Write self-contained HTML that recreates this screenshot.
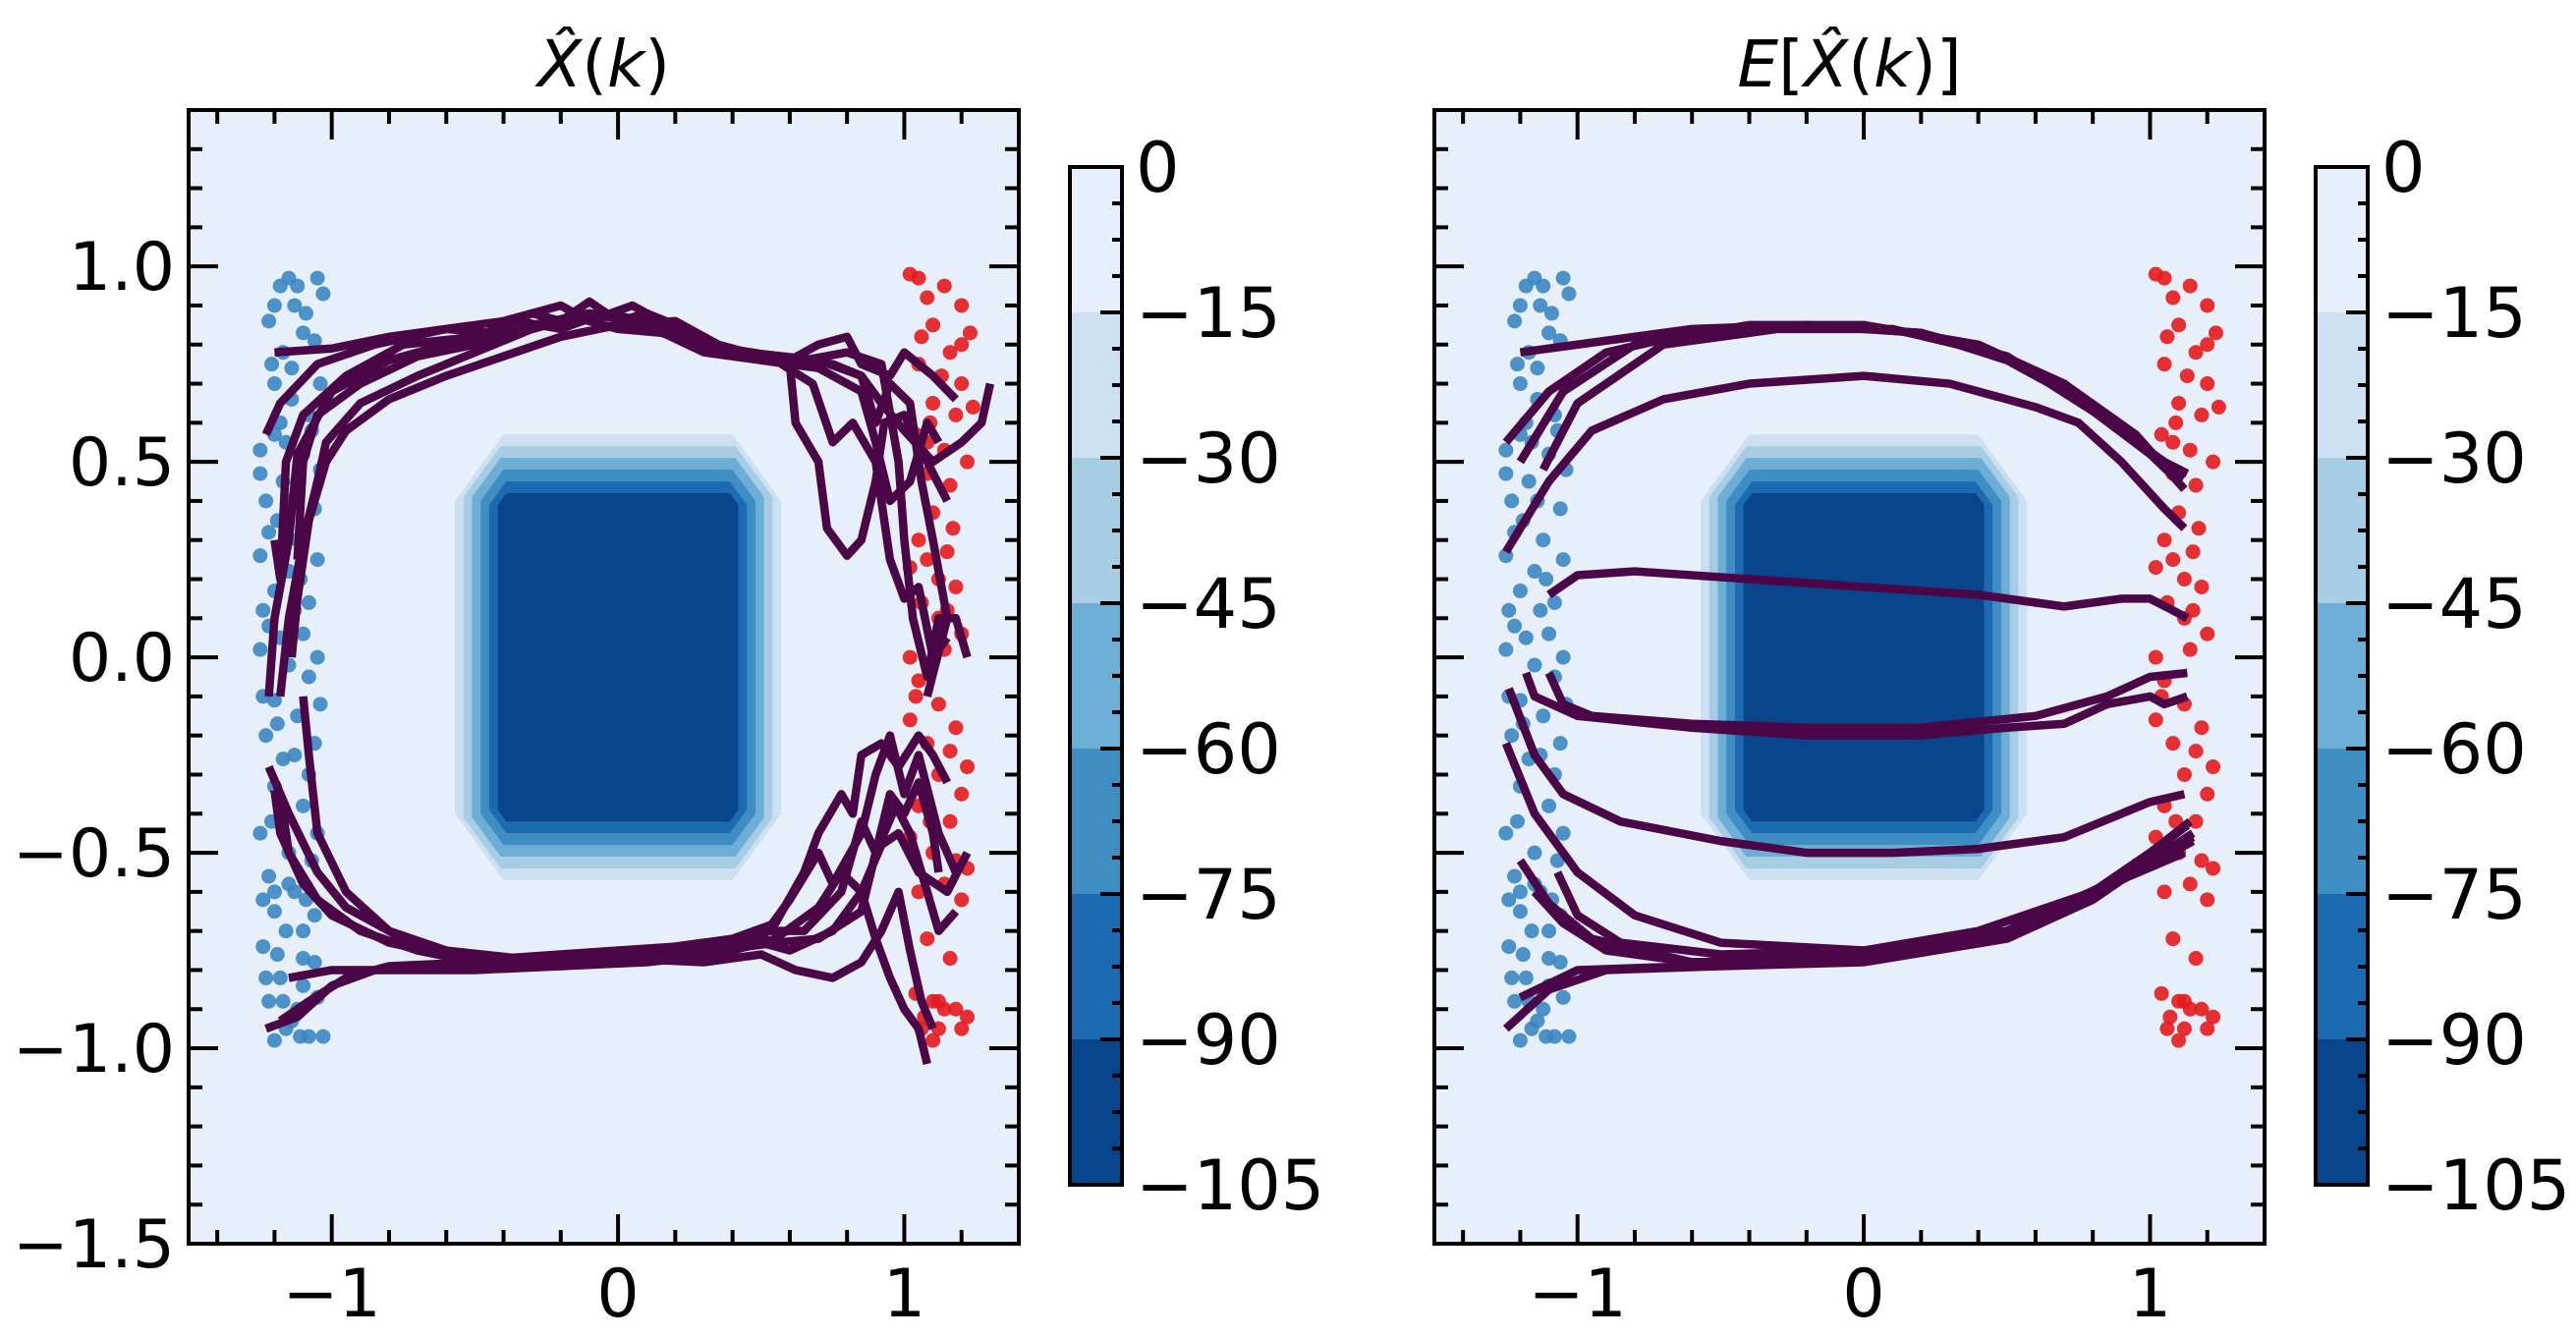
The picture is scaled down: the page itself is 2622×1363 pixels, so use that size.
<!DOCTYPE html>
<html><head><meta charset="utf-8">
<style>
html,body{margin:0;padding:0;background:#fff;}
svg{display:block;}
text{font-family:"DejaVu Sans","Liberation Sans",sans-serif;fill:#000;}
</style></head>
<body>
<svg id="fig" width="2622" height="1363" viewBox="0 0 2622 1363" xmlns="http://www.w3.org/2000/svg"></svg>
<script>
// ---- data ----
const levels = [0,-15,-30,-45,-60,-75,-90,-105];
const bandColors = ["#e7f0fa","#cde0f1","#a6cde3","#6caed6","#3e8ec4","#1c6ab0","#08458a"];
const contourHalf = [0.57,0.54,0.51,0.48,0.45,0.42];
const contourCut = [0.17,0.13,0.10,0.08,0.06,0.03];
const xTicks = [-1,0,1];
const yTicks = [-1.5,-1.0,-0.5,0.0,0.5,1.0];
const yTickLabels = ["\u22121.5","\u22121.0","\u22120.5","0.0","0.5","1.0"];
const xTickLabels = ["\u22121","0","1"];
const cbarLabels = ["0","\u221215","\u221230","\u221245","\u221260","\u221275","\u221290","\u2212105"];

const bluePts = [[-1.15,0.97],[-1.12,0.95],[-1.18,0.95],[-1.05,0.97],[-1.03,0.93],[-1.13,0.9],[-1.22,0.86],[-1.1,0.83],[-1.06,0.81],[-1.17,0.78],[-1.2,0.7],[-1.14,0.66],[-1.08,0.62],[-1.2,0.57],[-1.1,0.52],[-1.25,0.47],[-1.17,0.45],[-1.23,0.4],[-1.06,0.38],[-1.19,0.35],[-1.12,0.3],[-1.25,0.26],[-1.15,0.22],[-1.2,0.17],[-1.08,0.14],[-1.22,0.08],[-1.1,0.06],[-1.25,0.02],[-1.15,-0.02],[-1.05,0.0],[-1.2,-0.11],[-1.12,-0.15],[-1.23,-0.2],[-1.06,-0.22],[-1.17,-0.26],[-1.2,-0.33],[-1.1,-0.38],[-1.25,-0.45],[-1.15,-0.5],[-1.07,-0.52],[-1.22,-0.56],[-1.13,-0.6],[-1.2,-0.65],[-1.06,-0.66],[-1.16,-0.7],[-1.24,-0.74],[-1.1,-0.77],[-1.18,-0.82],[-1.22,-0.88],[-1.12,-0.9],[-1.05,-0.87],[-1.16,-0.95],[-1.2,-0.98],[-1.08,-0.97],[-1.03,-0.97],[-1.14,-0.93],[-1.18,0.6],[-1.04,0.7],[-1.24,0.12],[-1.08,-0.3],[-1.2,-0.6],[-1.1,-0.7],[-1.14,0.4],[-1.05,0.25],[-1.21,0.75],[-1.09,0.88],[-1.16,0.55],[-1.04,0.48],[-1.22,0.32],[-1.11,0.2],[-1.18,0.05],[-1.08,-0.05],[-1.24,-0.1],[-1.13,-0.25],[-1.21,-0.42],[-1.05,-0.45],[-1.15,-0.58],[-1.24,-0.62],[-1.09,-0.62],[-1.19,-0.76],[-1.06,-0.78],[-1.23,-0.82],[-1.1,-0.84],[-1.17,-0.88],[-1.11,-0.97],[-1.14,0.74],[-1.2,0.9],[-1.07,0.58],[-1.25,0.53],[-1.13,0.12],[-1.19,-0.17],[-1.04,-0.12]];
const redPts = [[1.02,0.98],[1.05,0.97],[1.14,0.95],[1.08,0.92],[1.2,0.9],[1.1,0.85],[1.23,0.83],[1.16,0.78],[1.05,0.75],[1.2,0.7],[1.1,0.65],[1.18,0.62],[1.04,0.57],[1.14,0.53],[1.22,0.5],[1.08,0.47],[1.16,0.44],[1.1,0.37],[1.05,0.3],[1.15,0.27],[1.02,0.23],[1.12,0.2],[1.18,0.18],[1.06,0.14],[1.12,0.1],[1.2,0.06],[1.02,0.0],[1.14,0.02],[1.05,-0.06],[1.12,-0.12],[1.02,-0.16],[1.18,-0.18],[1.08,-0.22],[1.22,-0.28],[1.12,-0.3],[1.2,-0.35],[1.05,-0.38],[1.16,-0.42],[1.02,-0.46],[1.1,-0.5],[1.22,-0.54],[1.14,-0.58],[1.05,-0.6],[1.2,-0.62],[1.08,-0.72],[1.16,-0.77],[1.04,-0.86],[1.1,-0.88],[1.14,-0.9],[1.22,-0.92],[1.07,-0.92],[1.12,-0.95],[1.1,-0.98],[1.2,0.8],[1.08,0.55],[1.06,0.82],[1.13,0.72],[1.24,0.64],[1.09,0.6],[1.17,0.33],[1.08,0.25],[1.15,0.12],[1.04,-0.1],[1.16,-0.24],[1.09,-0.42],[1.18,-0.52],[1.12,-0.88],[1.18,-0.9],[1.06,-0.95],[1.2,-0.95]];

const leftTraj = [
 [[-1.2,0.78],[-1.0,0.79],[-0.8,0.82],[-0.6,0.84],[-0.45,0.83],[-0.3,0.88],[-0.2,0.86],[-0.1,0.91],[0,0.86],[0.1,0.88],[0.2,0.85],[0.3,0.8],[0.5,0.77],[0.6,0.76],[0.7,0.8],[0.8,0.82],[0.85,0.75],[0.95,0.72],[1.0,0.78],[1.1,0.72],[1.18,0.66]],
 [[-1.23,0.57],[-1.18,0.65],[-1.05,0.75],[-0.85,0.8],[-0.6,0.84],[-0.4,0.86],[-0.2,0.9],[-0.1,0.86],[0.05,0.9],[0.15,0.86],[0.3,0.79],[0.5,0.76],[0.6,0.75],[0.62,0.6],[0.7,0.5],[0.73,0.33],[0.8,0.26],[0.85,0.3],[0.9,0.45],[0.93,0.6],[1.0,0.62],[1.08,0.5],[1.15,0.4]],
 [[-1.2,0.3],[-1.18,0.2],[-1.16,0.5],[-1.1,0.62],[-0.95,0.72],[-0.75,0.8],[-0.5,0.82],[-0.35,0.86],[-0.2,0.84],[-0.05,0.88],[0.1,0.86],[0.25,0.8],[0.4,0.77],[0.55,0.76],[0.68,0.7],[0.75,0.55],[0.82,0.6],[0.9,0.5],[0.95,0.25],[1.0,0.15],[1.05,0.18],[1.1,0.0],[1.15,0.05]],
 [[-1.22,-0.1],[-1.2,0.1],[-1.15,0.3],[-1.12,0.52],[-1.0,0.68],[-0.8,0.76],[-0.6,0.8],[-0.4,0.82],[-0.25,0.85],[-0.1,0.88],[0.1,0.85],[0.3,0.78],[0.5,0.76],[0.7,0.74],[0.85,0.68],[0.9,0.55],[0.95,0.4],[1.02,0.45],[1.08,0.6],[1.12,0.55]],
 [[-1.18,-0.1],[-1.15,0.1],[-1.1,0.3],[-1.05,0.45],[-1.02,0.55],[-0.9,0.65],[-0.7,0.72],[-0.5,0.78],[-0.3,0.84],[-0.15,0.87],[0,0.84],[0.15,0.83],[0.3,0.8],[0.55,0.77],[0.75,0.75],[0.85,0.72],[0.92,0.65],[1.0,0.58],[1.1,0.5],[1.2,0.55],[1.27,0.6],[1.3,0.7]],
 [[-1.14,0.0],[-1.12,0.15],[-1.08,0.35],[-1.02,0.5],[-0.95,0.58],[-0.8,0.66],[-0.6,0.72],[-0.4,0.77],[-0.2,0.82],[0,0.85],[0.2,0.86],[0.35,0.8],[0.5,0.76],[0.65,0.76],[0.8,0.78],[0.92,0.75],[0.98,0.5],[1.0,0.3],[1.03,0.1],[1.08,-0.05],[1.12,0.1],[1.18,0.1],[1.22,0.0]],
 [[-1.12,0.25],[-1.1,0.5],[-1.05,0.62],[-0.9,0.7],[-0.7,0.77],[-0.5,0.8],[-0.3,0.85],[-0.1,0.88],[0.1,0.85],[0.25,0.82],[0.45,0.78],[0.7,0.76],[0.85,0.72],[0.9,0.6],[0.95,0.7],[1.02,0.65],[1.06,0.45],[1.1,0.3],[1.15,0.1],[1.08,-0.1]],
 [[-1.2,-0.34],[-1.18,-0.45],[-1.1,-0.58],[-1.0,-0.66],[-0.8,-0.73],[-0.6,-0.76],[-0.4,-0.77],[-0.2,-0.76],[0,-0.75],[0.2,-0.74],[0.4,-0.72],[0.55,-0.68],[0.65,-0.55],[0.7,-0.45],[0.78,-0.35],[0.82,-0.4],[0.85,-0.25],[0.92,-0.22],[0.98,-0.28],[1.05,-0.2],[1.1,-0.25],[1.15,-0.32]],
 [[-1.18,-0.35],[-1.15,-0.5],[-1.05,-0.62],[-0.9,-0.7],[-0.7,-0.75],[-0.5,-0.78],[-0.3,-0.77],[-0.1,-0.76],[0.1,-0.75],[0.3,-0.73],[0.5,-0.72],[0.6,-0.62],[0.7,-0.5],[0.75,-0.58],[0.85,-0.45],[0.9,-0.3],[0.95,-0.2],[1.0,-0.35],[1.05,-0.25],[1.12,-0.45],[1.18,-0.55]],
 [[-1.22,-0.28],[-1.15,-0.4],[-1.05,-0.55],[-0.95,-0.64],[-0.75,-0.72],[-0.5,-0.77],[-0.25,-0.78],[0,-0.76],[0.25,-0.75],[0.45,-0.72],[0.6,-0.75],[0.75,-0.7],[0.85,-0.6],[0.9,-0.72],[0.95,-0.82],[1.0,-0.9],[1.05,-0.95],[1.08,-1.04]],
 [[-1.1,-0.1],[-1.08,-0.25],[-1.05,-0.45],[-0.95,-0.6],[-0.8,-0.7],[-0.6,-0.75],[-0.35,-0.77],[-0.1,-0.78],[0.15,-0.76],[0.35,-0.75],[0.55,-0.73],[0.7,-0.72],[0.85,-0.65],[0.9,-0.5],[0.97,-0.38],[1.02,-0.45],[1.08,-0.6],[1.12,-0.7],[1.18,-0.65]],
 [[-1.23,-0.95],[-1.12,-0.92],[-1.0,-0.84],[-0.85,-0.8],[-0.6,-0.79],[-0.3,-0.78],[0,-0.77],[0.3,-0.78],[0.5,-0.76],[0.62,-0.8],[0.75,-0.82],[0.85,-0.78],[0.92,-0.7],[0.98,-0.6],[1.02,-0.75],[1.06,-0.88],[1.1,-0.95]],
 [[-1.18,-0.93],[-1.08,-0.88],[-0.95,-0.82],[-0.8,-0.79],[-0.5,-0.78],[-0.2,-0.79],[0.1,-0.78],[0.35,-0.76],[0.55,-0.72],[0.7,-0.64],[0.78,-0.55],[0.85,-0.6],[0.92,-0.48],[0.98,-0.45],[1.05,-0.55],[1.15,-0.6],[1.22,-0.5]],
 [[-1.15,-0.82],[-1.0,-0.8],[-0.8,-0.8],[-0.5,-0.8],[-0.2,-0.79],[0.1,-0.77],[0.3,-0.74],[0.5,-0.7],[0.65,-0.7],[0.78,-0.6],[0.85,-0.42],[0.9,-0.5],[0.95,-0.35],[1.0,-0.4],[1.05,-0.32],[1.1,-0.45],[1.12,-0.55]]
];
const rightTraj = [
 [[-1.2,0.78],[-1.0,0.8],[-0.6,0.84],[-0.2,0.85],[0.2,0.83],[0.5,0.76],[0.8,0.64],[1.0,0.52],[1.12,0.46]],
 [[-1.25,0.55],[-1.1,0.68],[-0.9,0.78],[-0.6,0.83],[-0.2,0.85],[0.2,0.83],[0.5,0.77],[0.8,0.63],[1.0,0.52],[1.1,0.45]],
 [[-1.2,0.5],[-1.05,0.68],[-0.8,0.8],[-0.4,0.85],[0,0.85],[0.4,0.8],[0.7,0.7],[0.95,0.57],[1.12,0.43]],
 [[-1.12,0.48],[-1.0,0.65],[-0.7,0.8],[-0.3,0.84],[0.1,0.84],[0.5,0.77],[0.8,0.63],[1.05,0.5],[1.13,0.47]],
 [[-1.25,0.27],[-1.1,0.45],[-0.95,0.58],[-0.7,0.66],[-0.4,0.7],[0,0.72],[0.3,0.7],[0.6,0.64],[0.75,0.6],[0.9,0.5],[1.05,0.38],[1.12,0.33]],
 [[-1.1,0.16],[-1.0,0.21],[-0.8,0.22],[-0.4,0.2],[0,0.18],[0.4,0.16],[0.7,0.13],[0.9,0.15],[1.0,0.15],[1.08,0.12],[1.13,0.1]],
 [[-1.18,-0.04],[-1.15,-0.1],[-1.0,-0.15],[-0.6,-0.18],[-0.2,-0.2],[0.2,-0.2],[0.5,-0.18],[0.7,-0.17],[0.85,-0.12],[1.0,-0.1],[1.05,-0.12],[1.13,-0.1]],
 [[-1.1,-0.04],[-1.05,-0.12],[-0.95,-0.15],[-0.6,-0.17],[-0.2,-0.18],[0.2,-0.18],[0.6,-0.15],[0.85,-0.1],[1.0,-0.05],[1.13,-0.04]],
 [[-1.24,-0.08],[-1.15,-0.25],[-1.05,-0.35],[-0.85,-0.42],[-0.5,-0.47],[-0.2,-0.5],[0.1,-0.5],[0.4,-0.49],[0.7,-0.46],[0.9,-0.4],[1.0,-0.37],[1.12,-0.35]],
 [[-1.25,-0.95],[-1.1,-0.85],[-0.9,-0.8],[-0.5,-0.79],[0,-0.78],[0.5,-0.72],[0.8,-0.62],[1.0,-0.52],[1.15,-0.45]],
 [[-1.2,-0.87],[-1.0,-0.8],[-0.6,-0.79],[0,-0.77],[0.5,-0.71],[0.8,-0.6],[1.0,-0.5],[1.13,-0.43]],
 [[-1.15,-0.6],[-1.05,-0.68],[-0.9,-0.75],[-0.6,-0.78],[0,-0.77],[0.5,-0.7],[0.8,-0.6],[1.0,-0.5],[1.14,-0.42]],
 [[-1.2,-0.52],[-1.1,-0.63],[-0.95,-0.72],[-0.6,-0.78],[0,-0.77],[0.5,-0.7],[0.85,-0.58],[1.15,-0.46]],
 [[-1.07,-0.55],[-1.0,-0.66],[-0.85,-0.73],[-0.5,-0.76],[0,-0.75],[0.4,-0.7],[0.8,-0.6],[1.12,-0.5]],
 [[-1.25,-0.22],[-1.15,-0.4],[-1.0,-0.55],[-0.8,-0.66],[-0.5,-0.73],[0,-0.75],[0.5,-0.7],[0.9,-0.57],[1.15,-0.47]]
];

// ---- drawing ----
const NS="http://www.w3.org/2000/svg";
const svg=document.getElementById('fig');
function mk(tag,attrs,parent){const e=document.createElementNS(NS,tag);for(const k in attrs)e.setAttribute(k,attrs[k]);(parent||svg).appendChild(e);return e;}
function tsp(parent,str,italic){const s=mk('tspan',{},parent);if(italic)s.setAttribute('font-style','italic');s.textContent=str;return s;}
const X0=192,X1=1037,Y0=112,Y1=1266,XMIN=-1.5,XMAX=1.4,YMIN=-1.5,YMAX=1.4;
function panel(idx,off,traj){
  const g=mk('g',{});
  
  
  const sx=v=>off+X0+(v-XMIN)/(XMAX-XMIN)*(X1-X0);
  const sy=v=>Y1-(v-YMIN)/(YMAX-YMIN)*(Y1-Y0);
  const bg=mk('rect',{x:off+X0,y:Y0,width:X1-X0,height:Y1-Y0,fill:bandColors[0]},g);
  
  
  contourHalf.forEach((h,i)=>{
    const c=contourCut[i];
    const pts=[[-h+c,h],[h-c,h],[h,h-c],[h,-h+c],[h-c,-h],[-h+c,-h],[-h,-h+c],[-h,h-c]];
    const p=mk('polygon',{points:pts.map(q=>sx(q[0])+','+sy(q[1])).join(' '),fill:bandColors[i+1]},g);
    
    
  });
  [[bluePts,'#3b86c2'],[redPts,'#e41a1c']].forEach(([pts,col])=>{
    pts.forEach(q=>{
      const c=mk('circle',{cx:sx(q[0]),cy:sy(q[1]),r:7.5,fill:col,'fill-opacity':0.9},g);
      
      
    });
  });
  traj.forEach(t=>{
    const l=mk('polyline',{points:t.map(q=>sx(q[0])+','+sy(q[1])).join(' '),fill:'none',stroke:'#4a0647','stroke-width':8.5,'stroke-linejoin':'round','stroke-linecap':'butt'},g);
    
    
  });
  const tk=mk('g',{stroke:'#000','stroke-width':4},g);
  for(let v=-1.4;v<=1.4001;v+=0.2){
    const isMaj=Math.abs(v-Math.round(v))<1e-6;const L=isMaj?30:14;const x=sx(v);
    mk('line',{x1:x,y1:Y1,x2:x,y2:Y1-L},tk);mk('line',{x1:x,y1:Y0,x2:x,y2:Y0+L},tk);
  }
  for(let v=-1.4;v<=1.4001;v+=0.1){
    const isMaj=Math.abs(v*2-Math.round(v*2))<1e-6;const L=isMaj?30:14;const y=sy(v);
    mk('line',{x1:off+X0,y1:y,x2:off+X0+L,y2:y},tk);mk('line',{x1:off+X1,y1:y,x2:off+X1-L,y2:y},tk);
  }
  const fr=mk('rect',{x:off+X0,y:Y0,width:X1-X0,height:Y1-Y0,fill:'none',stroke:'#000','stroke-width':4},g);
  
  
  xTicks.forEach((v,i)=>{
    const t=mk('text',{x:sx(v),y:1340,'font-size':68,'text-anchor':'middle'},g);t.textContent=xTickLabels[i];
    
    
  });
  if(idx===0){yTicks.forEach((v,i)=>{
    const t=mk('text',{x:off+X0-14,y:sy(v)+24,'font-size':68,'text-anchor':'end'},g);t.textContent=yTickLabels[i];
    
    
  });}
  const ti=mk('text',{x:off+(X0+X1)/2,y:88,'font-size':66,'text-anchor':'middle'},g);
  if(idx===0){tsp(ti,'X\u0302',true);tsp(ti,'(',false);tsp(ti,'k',true);tsp(ti,')',false);}
  else{tsp(ti,'E',true);tsp(ti,'[',false);tsp(ti,'X\u0302',true);tsp(ti,'(',false);tsp(ti,'k',true);tsp(ti,')]',false);}
  
  
  const CX0=off+1089,CX1=off+1142,CY0=170,CY1=1206;
  const cy=v=>CY0+(0-v)/105*(CY1-CY0);
  const cb=mk('g',{},g);
  
  
  for(let i=0;i<7;i++){mk('rect',{x:CX0,y:cy(levels[i]),width:CX1-CX0,height:cy(levels[i+1])-cy(levels[i]),fill:bandColors[i]},cb);}
  const ctk=mk('g',{stroke:'#000','stroke-width':4},cb);
  for(let v=0;v>=-105;v-=3.75){const maj=Math.abs(v/15-Math.round(v/15))<1e-6;mk('line',{x1:CX1,y1:cy(v),x2:CX1-(maj?22:10),y2:cy(v)},ctk);}
  mk('rect',{x:CX0,y:CY0,width:CX1-CX0,height:CY1-CY0,fill:'none',stroke:'#000','stroke-width':4},cb);
  levels.forEach((v,i)=>{
    const t=mk('text',{x:CX1+14,y:cy(v)+25,'font-size':70},cb);t.textContent=cbarLabels[i];
    
    
  });
}
panel(0,0,leftTraj);
panel(1,1268,rightTraj);
</script>
</body></html>
